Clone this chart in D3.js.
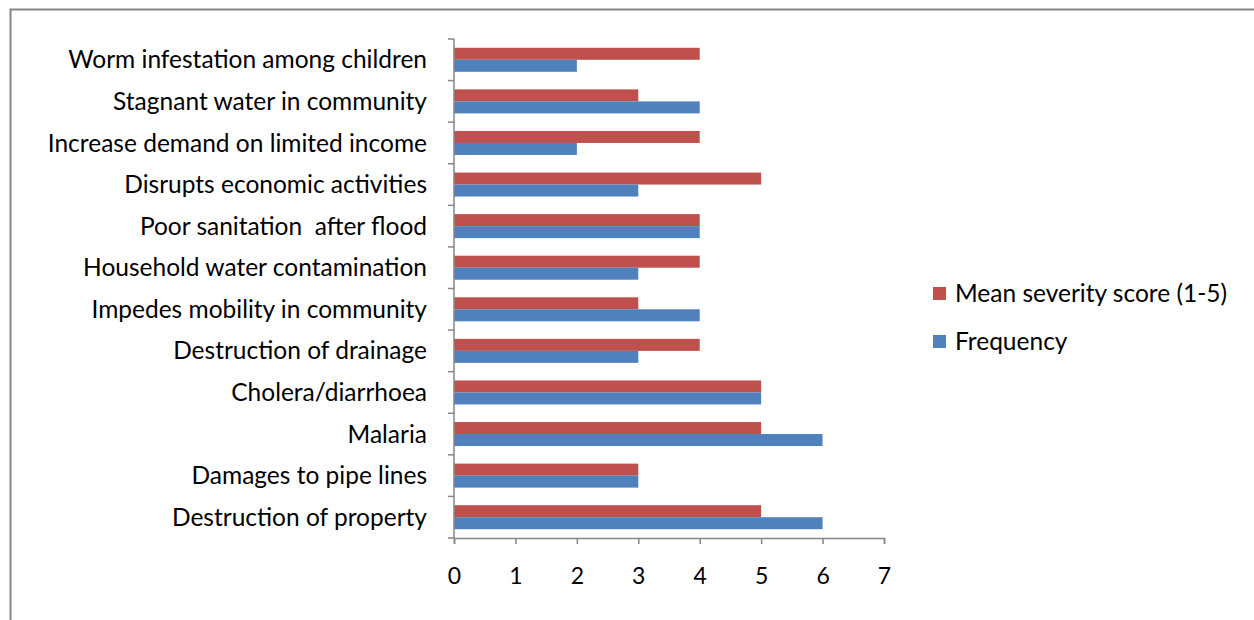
<!DOCTYPE html>
<html lang="en">
<head>
<meta charset="UTF-8">
<title>Flood impacts</title>
<style>
  body { margin: 0; background: #fff; }
  svg text { font-family: Lato, "Open Sans", sans-serif; fill: #000; white-space: pre; }
</style>
</head>
<body>
<div id="chart"></div>
<script src="https://cdnjs.cloudflare.com/ajax/libs/d3/7.8.5/d3.min.js"></script>
<script>
// categories listed bottom to top as in the picture
const categories = [
  "Destruction of property",
  "Damages to pipe lines",
  "Malaria",
  "Cholera/diarrhoea",
  "Destruction of drainage",
  "Impedes mobility in community",
  "Household water contamination",
  "Poor sanitation  after flood",
  "Disrupts economic activities",
  "Increase demand on limited income",
  "Stagnant water in community",
  "Worm infestation among children"
];
const frequency = [6, 3, 6, 5, 3, 4, 3, 4, 3, 2, 4, 2];
const meanSeverity = [5, 3, 5, 5, 4, 3, 4, 4, 5, 4, 3, 4];
const xTicks = [0, 1, 2, 3, 4, 5, 6, 7];

const seriesNames = ["Mean severity score (1-5)", "Frequency"];
const colors = { "Mean severity score (1-5)": "#C0504D", "Frequency": "#4F81BD" };

const W = 1254, H = 620;
const plot = { left: 454, right: 884, top: 39, bottom: 538 };

const svg = d3.select("#chart").append("svg")
  .attr("width", W).attr("height", H);

// outer frame
svg.append("rect")
  .attr("x", 10.5).attr("y", 9.5)
  .attr("width", W + 20).attr("height", H + 20)
  .attr("fill", "none").attr("stroke", "#868686").attr("stroke-width", 2);

const x = d3.scaleLinear().domain([0, 7]).range([plot.left, plot.right]);
const y = d3.scaleBand().domain(categories.slice().reverse())
  .range([plot.top, plot.bottom]).paddingInner(0).paddingOuter(0);

const barH = 12;

const rows = categories.map((c, i) => ({ cat: c, freq: frequency[i], sev: meanSeverity[i] }));

const g = svg.append("g");
rows.forEach(d => {
  const cy = y(d.cat) + y.bandwidth() / 2;
  g.append("rect")
    .attr("x", x(0)).attr("y", cy - barH)
    .attr("width", x(d.sev) - x(0)).attr("height", barH)
    .attr("fill", colors["Mean severity score (1-5)"]);
  g.append("rect")
    .attr("x", x(0)).attr("y", cy)
    .attr("width", x(d.freq) - x(0)).attr("height", barH)
    .attr("fill", colors["Frequency"]);
});

// y axis: line with ticks on category boundaries
const axisColor = "#868686";
svg.append("line")
  .attr("x1", plot.left).attr("x2", plot.left)
  .attr("y1", plot.top).attr("y2", plot.bottom)
  .attr("stroke", axisColor).attr("stroke-width", 1.5);
const bounds = categories.map(c => y(c)).concat([plot.bottom]);
svg.selectAll(".ytick").data(bounds).enter().append("line")
  .attr("x1", plot.left - 6).attr("x2", plot.left)
  .attr("y1", d => d).attr("y2", d => d)
  .attr("stroke", axisColor).attr("stroke-width", 1.5);
svg.selectAll(".ylab").data(categories).enter().append("text")
  .attr("x", plot.left - 27)
  .attr("y", d => y(d) + y.bandwidth() / 2)
  .attr("dy", "0.35em")
  .attr("text-anchor", "end")
  .attr("font-size", 24.5)
  .text(d => d);

// x axis
const xAxis = svg.append("g")
  .attr("transform", `translate(0,${plot.bottom})`)
  .call(d3.axisBottom(x).tickValues(xTicks).tickSize(6).tickPadding(24).tickFormat(d3.format("d")));
xAxis.select(".domain").attr("stroke", axisColor).attr("stroke-width", 1.5);
xAxis.selectAll(".tick line").attr("stroke", axisColor).attr("stroke-width", 1.5);
xAxis.selectAll(".tick text").attr("font-size", 23).attr("font-family", "Lato, sans-serif").attr("fill", "#000");

// legend
const legend = svg.append("g").attr("transform", "translate(933,287)");
seriesNames.forEach((s, i) => {
  legend.append("rect")
    .attr("x", 0).attr("y", i * 48)
    .attr("width", 13).attr("height", 13)
    .attr("fill", colors[s]);
  legend.append("text")
    .attr("x", 22).attr("y", i * 48 + 6.5)
    .attr("dy", "0.35em")
    .attr("font-size", 24.5)
    .text(s);
});
</script>
</body>
</html>
